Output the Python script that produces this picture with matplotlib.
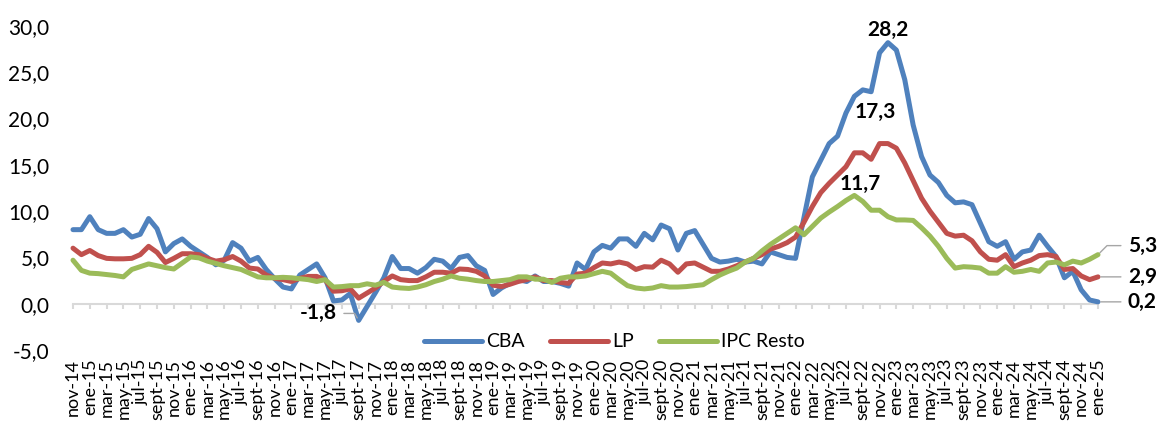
import matplotlib
matplotlib.use("Agg")
import matplotlib.pyplot as plt
from matplotlib.ticker import FuncFormatter

plt.rcParams["font.family"] = ["Lato", "DejaVu Sans"]

# Monthly series, nov-14 .. ene-25 (123 months)
MONTHS = ["ene", "feb", "mar", "abr", "may", "jun", "jul", "ago", "sept", "oct", "nov", "dic"]
periods = [f"{MONTHS[(10 + k) % 12]}-{14 + (10 + k) // 12:02d}" for k in range(123)]

cba = [
    8.0, 8.0, 9.4, 8.0, 7.6, 7.6, 8.0, 7.2, 7.5, 9.2, 8.1, 5.6,
    6.5, 7.0, 6.2, 5.6, 5.0, 4.2, 4.7, 6.6, 6.0, 4.6, 5.0, 3.7,
    2.7, 1.8, 1.6, 3.1, 3.7, 4.3, 2.8, 0.3, 0.4, 1.1, -1.8, -0.3,
    1.2, 2.8, 5.1, 3.8, 3.8, 3.3, 3.9, 4.8, 4.6, 3.8, 5.0, 5.2,
    4.1, 3.6, 1.0, 1.7, 2.2, 2.6, 2.4, 3.0, 2.4, 2.4, 2.2, 1.9,
    4.4, 3.7, 5.6, 6.3, 6.0, 7.0, 7.0, 6.2, 7.6, 6.9, 8.5, 8.1,
    5.8, 7.6, 7.9, 6.4, 4.9, 4.5, 4.6, 4.8, 4.5, 4.6, 4.3, 5.6,
    5.3, 5.0, 4.9, 9.3, 13.7, 15.5, 17.3, 18.1, 20.6, 22.4, 23.1, 22.9,
    27.1, 28.2, 27.4, 24.2, 19.3, 15.9, 13.9, 13.1, 11.7, 10.9, 11.0, 10.7,
    8.7, 6.7, 6.2, 6.7, 4.8, 5.6, 5.8, 7.4, 6.2, 5.1, 2.8, 3.5,
    1.5, 0.4, 0.2,
]
lp = [
    6.0, 5.3, 5.75, 5.2, 4.9, 4.85, 4.85, 4.9, 5.3, 6.2, 5.55, 4.45,
    4.9, 5.4, 5.4, 5.3, 4.9, 4.6, 4.75, 5.1, 4.6, 3.85, 3.75, 3.1,
    2.75, 2.6, 2.4, 2.75, 2.95, 2.95, 2.6, 1.35, 1.4, 1.6, 0.6, 1.15,
    1.7, 2.4, 3.0, 2.6, 2.5, 2.5, 2.9, 3.4, 3.4, 3.3, 3.75, 3.7,
    3.5, 3.0, 2.0, 1.85, 2.1, 2.4, 2.6, 2.9, 2.5, 2.5, 2.3, 2.2,
    3.2, 3.3, 3.9, 4.4, 4.3, 4.5, 4.3, 3.7, 4.0, 3.95, 4.7, 4.3,
    3.4, 4.3, 4.4, 3.95, 3.5, 3.5, 3.75, 4.1, 4.5, 4.9, 5.3, 5.9,
    6.2, 6.6, 7.2, 8.8, 10.5, 12.0, 13.0, 13.9, 14.8, 16.3, 16.3, 15.6,
    17.3, 17.3, 16.8, 15.2, 13.3, 11.4, 10.0, 8.8, 7.6, 7.3, 7.4, 6.8,
    5.6, 4.8, 4.7, 5.3, 4.0, 4.4, 4.7, 5.2, 5.3, 5.1, 3.7, 3.8,
    3.0, 2.6, 2.9,
]
ipc_resto = [
    4.7, 3.6, 3.3, 3.25, 3.15, 3.05, 2.9, 3.7, 4.0, 4.3, 4.1, 3.9,
    3.75, 4.4, 5.05, 4.95, 4.6, 4.35, 4.1, 3.9, 3.7, 3.3, 2.9, 2.8,
    2.8, 2.85, 2.8, 2.7, 2.6, 2.4, 2.6, 1.8, 1.85, 1.95, 1.95, 2.15,
    2.0, 2.3, 1.8, 1.7, 1.65, 1.8, 2.05, 2.4, 2.65, 3.0, 2.75, 2.65,
    2.5, 2.4, 2.4, 2.5, 2.6, 2.9, 2.9, 2.65, 2.65, 2.3, 2.75, 2.9,
    2.9, 3.0, 3.25, 3.5, 3.3, 2.6, 1.95, 1.7, 1.6, 1.7, 1.95, 1.8,
    1.8, 1.85, 1.95, 2.05, 2.6, 3.1, 3.5, 3.85, 4.5, 4.9, 5.7, 6.4,
    7.0, 7.6, 8.2, 7.45, 8.35, 9.25, 9.9, 10.5, 11.15, 11.7, 11.05, 10.1,
    10.1, 9.4, 9.05, 9.05, 9.0, 8.2, 7.3, 6.2, 4.9, 3.85, 4.0, 3.95,
    3.85, 3.3, 3.3, 4.0, 3.4, 3.5, 3.7, 3.5, 4.4, 4.5, 4.2, 4.6,
    4.4, 4.8, 5.3,
]

series = [("CBA", cba, "#4F81BD"), ("LP", lp, "#C0504D"), ("IPC Resto", ipc_resto, "#9BBB59")]


def fmt(v):
    return f"{v:.1f}".replace(".", ",")


W, H = 1162, 425
fig = plt.figure(figsize=(W / 100, H / 100), dpi=100)
ax = fig.add_axes([73 / W, 75 / H, 1025 / W, 324 / H])

x = list(range(len(periods)))
for name, vals, color in series:
    ax.plot(x, vals, color=color, lw=3.6, label=name,
            solid_joinstyle="round", solid_capstyle="round", clip_on=False)

ax.set_xlim(0, len(periods) - 1)
ax.set_ylim(-5, 30)
ax.set_yticks(range(-5, 31, 5))
ax.yaxis.set_major_formatter(FuncFormatter(lambda v, _: fmt(v)))
ax.tick_params(axis="y", length=0, pad=17, labelsize=15)

for side in ("left", "right", "top"):
    ax.spines[side].set_visible(False)
ax.spines["bottom"].set_position(("data", 0))
ax.spines["bottom"].set_color("#d9d9d9")
ax.spines["bottom"].set_linewidth(1.5)
ax.spines["bottom"].set_zorder(0)
ax.set_xticks(x[::2])
ax.set_xticklabels(periods[::2], rotation=90, va="top")
ax.tick_params(axis="x", direction="out", length=3.6, width=1.5, color="#d9d9d9",
               pad=36, labelsize=13)

ax.legend(loc="center", bbox_to_anchor=(0.528, 0.025), ncol=3, frameon=False,
          fontsize=14, handlelength=3.0, handletextpad=0.2, columnspacing=1.3)

# data labels
bold = dict(fontsize=15, fontweight="bold", ha="center", va="center")
last = len(periods) - 1
i_max = cba.index(max(cba))
ax.annotate(fmt(cba[i_max]), (i_max, cba[i_max]), xytext=(0, 9),
            textcoords="offset points", **bold)
i_max = lp.index(max(lp))
ax.annotate(fmt(lp[i_max]), (i_max, lp[i_max]), xytext=(-3, 23),
            textcoords="offset points", **bold)
i_max = ipc_resto.index(max(ipc_resto))
ax.annotate(fmt(ipc_resto[i_max]), (i_max, ipc_resto[i_max]), xytext=(4, 8),
            textcoords="offset points", **bold)

leader = dict(arrowstyle="-", color="#a6a6a6", lw=1, shrinkA=3, shrinkB=2)
i_min = cba.index(min(cba))
ax.annotate(fmt(cba[i_min]), (i_min, cba[i_min]), xytext=(-29, 5),
            textcoords="offset points",
            arrowprops=dict(**leader, relpos=(1, 0.5),
                            connectionstyle="angle,angleA=0,angleB=120,rad=0"),
            **bold)

right = dict(fontsize=15, fontweight="bold", ha="left", va="center")
ax.annotate(fmt(ipc_resto[last]), (last, ipc_resto[last]), xytext=(21.5, 6.5),
            textcoords="offset points",
            arrowprops=dict(**leader, relpos=(0, 0.5),
                            connectionstyle="angle,angleA=0,angleB=45,rad=0"),
            **right)
ax.annotate(fmt(lp[last]), (last, lp[last]), xytext=(21.5, 0),
            textcoords="offset points",
            arrowprops=dict(**leader, relpos=(0, 0.5)), **right)
ax.annotate(fmt(cba[last]), (last, cba[last]), xytext=(21.5, 0),
            textcoords="offset points",
            arrowprops=dict(**leader, relpos=(0, 0.5)), **right)

fig.savefig("out.png", dpi=100)
